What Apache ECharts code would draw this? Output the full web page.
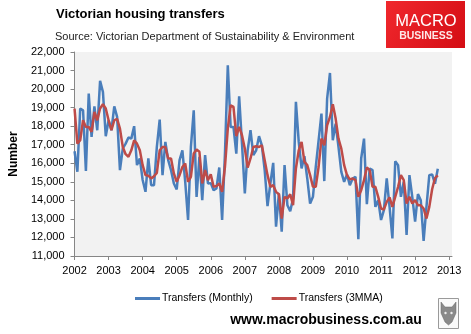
<!DOCTYPE html>
<html>
<head>
<meta charset="utf-8">
<script src="https://cdn.jsdelivr.net/npm/echarts@6/dist/echarts.min.js"></script>
<style>
html,body{margin:0;padding:0;background:#fff;}
#chart{width:471px;height:334px;}
</style>
</head>
<body>
<div id="chart"></div>
<script>
// ---- data ----
var startYear = 2002;
var endYear = 2013;
var yearTicks = ['2002','2003','2004','2005','2006','2007','2008','2009','2010','2011','2012','2013'];

// Transfers (Monthly), Jan 2002 .. Sep 2012
var monthly = [
  16650, 15540, 18950, 18860, 15590, 19760, 17420, 19070, 17780, 20440, 19850, 17460,
  18320, 17780, 19070, 18500, 15630, 16800, 17060, 17390, 17330, 18000, 15900, 16260,
  15100, 14460, 16260, 14820, 14820, 16880, 18360, 15360, 17150, 16170, 15630, 14910,
  14590, 16170, 16700, 15000, 12940, 16880, 18860, 14190, 16350, 14010, 16440, 14910,
  14930, 14550, 14640, 15770, 12940, 16520, 21280, 17960, 17960, 16520, 19610, 17060,
  14370, 16700, 17780, 16440, 16700, 17460, 16970, 15630, 13690, 14910, 16020, 12580,
  14370, 12310, 15900, 13740, 13420, 14100, 19310, 17150, 15720, 16380, 15180, 13830,
  14190, 15810, 17240, 18680, 15040, 19490, 20870, 17240, 18140, 16880, 15540, 15000,
  15400, 14820, 15180, 15270, 11900, 16260, 17330, 13800, 15720, 15630, 13650, 14010,
  12940, 13470, 15180, 13650, 11950, 16110, 15900, 14190, 15000, 12130, 15360, 14190,
  12850, 14340, 14000, 11820, 13650, 15360, 15400, 14900, 15700
];

// Transfers (3MMA), Jan 2002 .. Sep 2012
var mma3 = [
  18950, 17060, 17240, 18320, 17960, 17960, 17690, 18770, 18320, 18950, 19180, 18950,
  18320, 17780, 18320, 18400, 17870, 16880, 16490, 16350, 16700, 17240, 17060, 16700,
  15900, 15360, 15330, 15180, 15300, 15480, 16700, 16880, 16880, 16260, 16260, 15450,
  15000, 15360, 15800, 15990, 15000, 15270, 16530, 16740, 16620, 14910, 15630, 15090,
  15400, 14730, 14770, 14910, 14460, 15800, 17870, 19130, 19040, 17460, 17960, 17510,
  16790, 15770, 16260, 16880, 16920, 16880, 16970, 16170, 15360, 14730, 14820, 14460,
  14330, 13020, 14190, 14100, 14330, 13740, 15720, 16700, 17150, 16080, 15900, 15360,
  14730, 14730, 15810, 17330, 16970, 18050, 18500, 19180, 18410, 17330, 16790, 15900,
  15360, 15130, 15180, 15090, 14190, 14550, 15090, 15770, 15630, 14730, 14730, 14190,
  13560, 13510, 13920, 14160, 13650, 14190, 14730, 15360, 15090, 13830, 14190, 13830,
  14010, 13740, 13740, 13560, 13020, 13650, 14600, 15200, 15350
];

// month categories Jan 2002 .. Feb 2013
var months = [];
for (var y = startYear; y <= endYear; y++) {
  for (var m = 1; m <= 12; m++) {
    if (y === endYear && m > 2) break;
    months.push(y + '-' + (m < 10 ? '0' + m : m));
  }
}

var FONT = 'Liberation Sans';
var chart = echarts.init(document.getElementById('chart'), null, {renderer: 'canvas'});
function isYearStart(idx) { return idx % 12 === 0; }

chart.setOption({
  animation: false,
  backgroundColor: '#ffffff',
  textStyle: {fontFamily: FONT},
  grid: {
    left: 63, right: 19, top: 52, bottom: 78,
    show: true, backgroundColor: '#f2f2f2', borderWidth: 0,
    containLabel: false
  },
  xAxis: {
    type: 'category',
    data: months,
    boundaryGap: false,
    axisLine: {lineStyle: {color: '#868686', width: 1}},
    axisTick: {show: true, interval: isYearStart, length: 4, lineStyle: {color: '#868686'}},
    axisLabel: {
      interval: isYearStart,
      formatter: function (v) { return v.slice(0, 4); },
      color: '#000', fontSize: 11, margin: 9, fontFamily: FONT
    },
    splitLine: {show: false}
  },
  yAxis: {
    type: 'value',
    min: 11000, max: 22000, interval: 1000,
    name: 'Number',
    nameLocation: 'middle',
    nameRotate: 90,
    nameGap: 54,
    nameTextStyle: {fontWeight: 'bold', fontSize: 12, color: '#000', fontFamily: FONT},
    axisLine: {show: true, lineStyle: {color: '#868686', width: 1}},
    axisTick: {show: true, length: 4, lineStyle: {color: '#868686'}},
    axisLabel: {
      color: '#000', fontSize: 11, margin: 10, fontFamily: FONT,
      formatter: function (v) { return v.toLocaleString('en-US'); }
    },
    splitLine: {show: false}
  },
  legend: {
    left: 135, top: 293, padding: 0,
    itemWidth: 25, itemHeight: 3, itemGap: 19,
    icon: 'rect',
    textStyle: {fontSize: 10.5, color: '#000', fontFamily: FONT, padding: [0, 0, 0, -3]},
    data: ['Transfers (Monthly)', 'Transfers (3MMA)']
  },
  series: [
    {
      name: 'Transfers (Monthly)', type: 'line', data: monthly,
      symbol: 'none', lineStyle: {color: '#4a7ebb', width: 2.5}, itemStyle: {color: '#4a7ebb'},
      z: 2
    },
    {
      name: 'Transfers (3MMA)', type: 'line', data: mma3,
      symbol: 'none', lineStyle: {color: '#be4b48', width: 2.5}, itemStyle: {color: '#be4b48'},
      z: 3
    }
  ],
  graphic: [
    {type: 'text', left: 56, top: 8, style: {text: 'Victorian housing transfers', font: 'bold 13px "' + FONT + '"', fill: '#000'}},
    {type: 'text', left: 55, top: 31, style: {text: 'Source: Victorian Department of Sustainability & Environment', font: '11px "' + FONT + '"', fill: '#222'}},
    {type: 'rect', shape: {x: 386, y: 1, width: 79, height: 47},
      style: {fill: new echarts.graphic.LinearGradient(0, 0, 1, 1, [{offset: 0, color: '#f0282d'}, {offset: 1, color: '#d40d14'}])}},
    {type: 'text', x: 426, y: 21, style: {text: 'MACRO', font: '16.5px "' + FONT + '"', fill: '#ffffff', align: 'center', verticalAlign: 'middle'}},
    {type: 'text', x: 426, y: 36, style: {text: 'BUSINESS', font: 'bold 10.5px "' + FONT + '"', fill: '#fde8e8', align: 'center', verticalAlign: 'middle'}},
    {type: 'text', x: 326, y: 313, style: {text: 'www.macrobusiness.com.au', font: 'bold 14px "' + FONT + '"', fill: '#000', align: 'center', verticalAlign: 'top'}},
    {type: 'rect', shape: {x: 438.5, y: 298.5, width: 20, height: 30}, style: {fill: '#fafafa', stroke: '#9a9a9a', lineWidth: 1}},
    {type: 'polygon', shape: {points: [[441, 302], [445, 307], [452, 307], [456, 302], [456, 313], [452, 322], [448.5, 325], [445, 322], [441, 313]]},
      style: {fill: '#8a8a8a', stroke: '#666', lineWidth: 0.5}},
    {type: 'circle', shape: {cx: 445.5, cy: 313, r: 1.2}, style: {fill: '#eee'}},
    {type: 'circle', shape: {cx: 451.5, cy: 313, r: 1.2}, style: {fill: '#eee'}}
  ]
});
</script>
</body>
</html>
